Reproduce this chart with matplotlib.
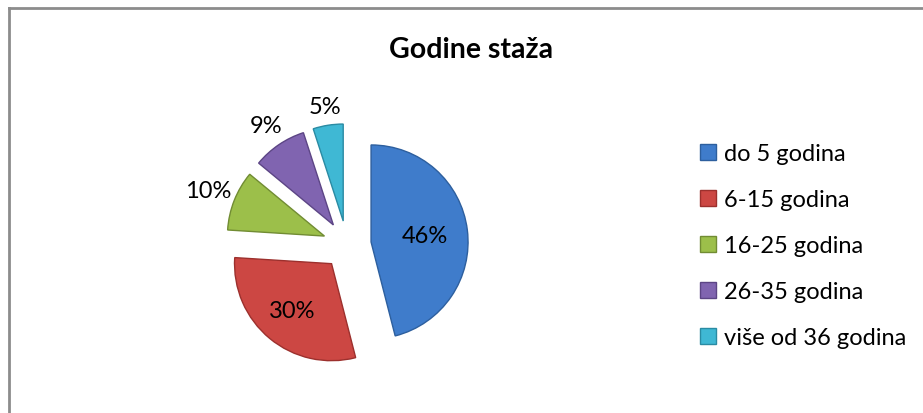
import matplotlib.pyplot as plt
import numpy as np
from matplotlib.lines import Line2D

plt.rcParams['font.family'] = ['Lato', 'DejaVu Sans']

# podaci
kategorije = ['do 5 godina', '6-15 godina', '16-25 godina', '26-35 godina', 'više od 36 godina']
udjeli = [46, 30, 10, 9, 5]
boje = ['#3f7ccb', '#cc4743', '#9cbf4a', '#8064b0', '#3fb8d4']
rubovi = ['#2d5f9e', '#9c302d', '#718c33', '#5c4585', '#2a8ba3']

fig = plt.figure(figsize=(9.23, 4.14), dpi=100)
ax = fig.add_axes([0, 0, 1, 1])

r = 97
eksp = 0.25 * r
centar = (347, 414 - 246)
wedges, _ = ax.pie(udjeli, colors=boje, startangle=90, counterclock=False,
                   explode=[eksp] * 5, radius=r, center=centar,
                   wedgeprops=dict(linewidth=1.0), frame=True)
for w, e in zip(wedges, rubovi):
    w.set_edgecolor(e)
ax.set_xlim(0, 923)
ax.set_ylim(0, 414)
ax.set_aspect('equal')
ax.axis('off')

# oznake postotaka
udaljenost = [0.56, 0.63, 1.29, 1.24, 1.2]
for w, v, d in zip(wedges, udjeli, udaljenost):
    kut = np.deg2rad((w.theta1 + w.theta2) / 2)
    x = centar[0] + (eksp + d * r) * np.cos(kut)
    y = centar[1] + (eksp + d * r) * np.sin(kut)
    ax.text(x, y, f'{v}%', ha='center', va='center', fontsize=17, color='black')

fig.text(471 / 923, 1 - 50 / 414, 'Godine staža', ha='center', va='center',
         fontsize=20.5, fontweight='bold')

ruke = [Line2D([], [], marker='s', linestyle='none', markersize=11,
               markerfacecolor=b, markeredgecolor=e) for b, e in zip(boje, rubovi)]
fig.legend(ruke, kategorije, loc='center left', bbox_to_anchor=(0.734, 0.405),
           frameon=False, fontsize=17, labelspacing=1.06, handlelength=0.8,
           handletextpad=0.25)

# okvir grafikona
fig.add_artist(Line2D([9 / 923, 9 / 923], [0, 1 - 9 / 414], transform=fig.transFigure,
                      color='#8c8c8c', linewidth=2))
fig.add_artist(Line2D([9 / 923, 1], [1 - 9 / 414, 1 - 9 / 414], transform=fig.transFigure,
                      color='#8c8c8c', linewidth=2))

fig.savefig('out.png', dpi=100)
